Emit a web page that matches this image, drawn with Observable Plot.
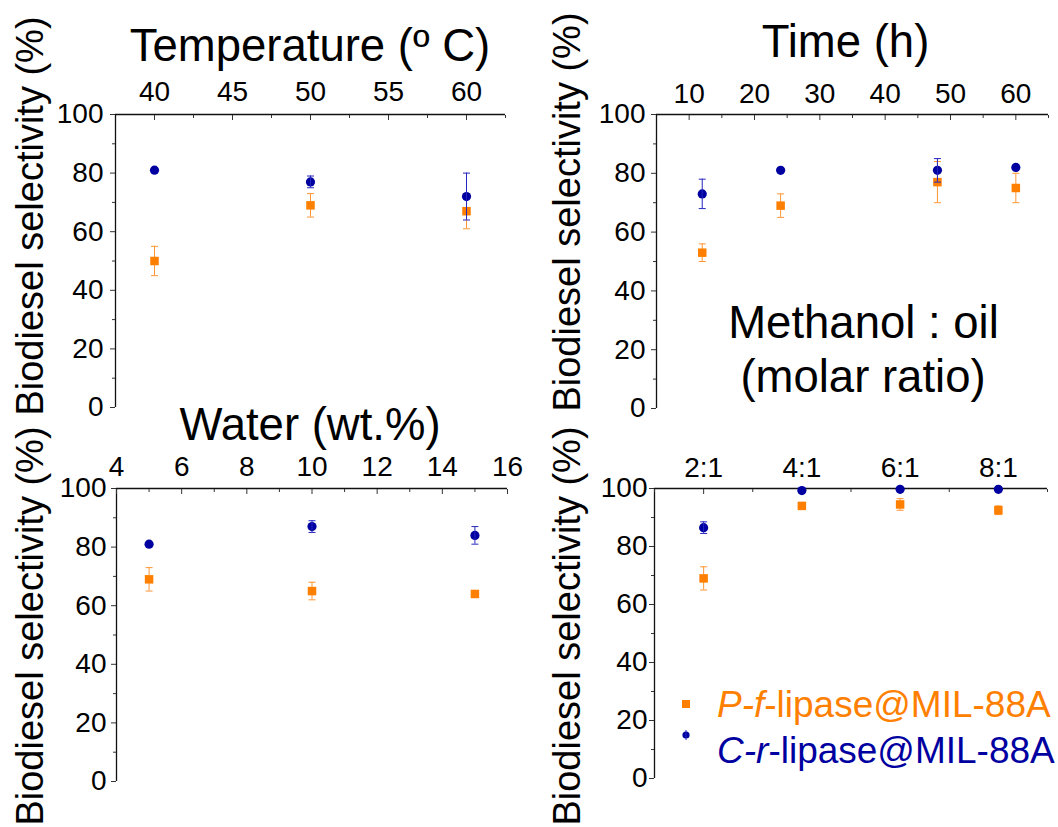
<!DOCTYPE html>
<html><head><meta charset="utf-8">
<script src="https://cdn.jsdelivr.net/npm/d3@7"></script>
<script src="https://cdn.jsdelivr.net/npm/@observablehq/plot@0.6"></script>
<style>
html,body{margin:0;padding:0;background:#fff;}
#root{position:relative;width:1058px;height:827px;overflow:hidden;font-family:"Liberation Sans",Arial,sans-serif;background:#fff;}
#root svg{position:absolute;left:0;top:0;}
</style></head><body><div id="root"></div>
<script>
const FONT = '"Liberation Sans", Arial, sans-serif';
const ORANGE = "#ff8000", BLUE = "#0000a0";
const ORANGE_BAR = "#ff9633", BLUE_BAR = "#2525c0";

// Common y axis
const yTicks = [0, 20, 40, 60, 80, 100];
const yMinor = [10, 30, 50, 70, 90];
const yLabel = "Biodiesel selectivity (%)";
const seriesNames = ["P-f-lipase@MIL-88A", "C-r-lipase@MIL-88A"];

// Panel A: Temperature
const tempX = [40, 50, 60];
const tempOrange = [50, 69, 67];
const tempOrangeErr = [5, 4, 6];
const tempBlue = [81, 77, 72];
const tempBlueErr = [0, 2, 8];
const tempTicks = [40, 45, 50, 55, 60];
const tempMinor = [42.5, 47.5, 52.5, 57.5, 62.5];
const tempDomain = [37.5, 62.5];

// Panel B: Time
const timeX = [12, 24, 48, 60];
const timeOrange = [53, 69, 77, 75];
const timeOrangeErr = [3, 4, 7, 5];
const timeBlue = [73, 81, 81, 82];
const timeBlueErr = [5, 0, 4, 0];
const timeTicks = [10, 20, 30, 40, 50, 60];
const timeMinor = [15, 25, 35, 45, 55, 65];
const timeDomain = [5, 65];

// Panel C: Water
const waterX = [5, 10, 15];
const waterOrange = [69, 65, 64];
const waterOrangeErr = [4, 3, 0];
const waterBlue = [81, 87, 84];
const waterBlueErr = [0, 2, 3];
const waterTicks = [4, 6, 8, 10, 12, 14, 16];
const waterMinor = [5, 7, 9, 11, 13, 15];
const waterDomain = [4, 16];

// Panel D: Methanol : oil molar ratio
const ratioX = [2, 4, 6, 8];
const ratioOrange = [69, 94, 94.5, 92.5];
const ratioOrangeErr = [4, 0, 2, 1.5];
const ratioBlue = [86.5, 99.3, 99.7, 99.7];
const ratioBlueErr = [2, 0, 0, 0];
const ratioTicks = [2, 4, 6, 8];
const ratioLabels = ["2:1", "4:1", "6:1", "8:1"];
const ratioMinor = [1, 3, 5, 7, 9];
const ratioDomain = [1, 9];

const W = 1058, H = 827;
const cap = {draw(ctx) { ctx.moveTo(-3.5, 0); ctx.lineTo(3.5, 0); }};

function rows(xs, ys, es) {
  return xs.map((x, i) => ({x, y: ys[i], lo: ys[i] - es[i], hi: ys[i] + es[i], e: es[i]}));
}

function panel(cfg) {
  const o = rows(cfg.x, cfg.orange, cfg.orangeErr);
  const b = rows(cfg.x, cfg.blue, cfg.blueErr);
  const oe = o.filter(d => d.e > 0), be = b.filter(d => d.e > 0);
  const [L, T, R, B] = cfg.frame;
  return Plot.plot({
    width: W, height: H,
    marginLeft: L, marginTop: T, marginRight: W - R, marginBottom: H - B,
    style: {background: "transparent", fontFamily: FONT, color: "#000", overflow: "visible"},
    x: {domain: cfg.xDomain},
    y: {domain: [0, 100]},
    marks: [
      Plot.ruleX([cfg.xDomain[0]], {stroke: "#111", strokeWidth: 1.3}),
      Plot.ruleY([100], {stroke: "#111", strokeWidth: 1.3}),
      Plot.axisY(yTicks, {anchor: "left", tickSize: 5, tickPadding: cfg.yPad, fontSize: 28, label: null, stroke: "#333"}),
      Plot.axisY(yMinor, {anchor: "left", tickSize: 3, tickFormat: () => "", label: null, stroke: "#333"}),
      Plot.axisX(cfg.ticks, {anchor: "top", tickSize: -5, tickPadding: cfg.xPad, fontSize: 28, label: null, tickFormat: cfg.fmt, stroke: "#333"}),
      Plot.axisX(cfg.minor, {anchor: "top", tickSize: -3, tickFormat: () => "", label: null, stroke: "#333"}),
      Plot.ruleX(oe, {x: "x", y1: "lo", y2: "hi", stroke: ORANGE_BAR, strokeWidth: 1}),
      Plot.dot(oe, {x: "x", y: "lo", symbol: cap, stroke: ORANGE_BAR, fill: "none", strokeWidth: 1}),
      Plot.dot(oe, {x: "x", y: "hi", symbol: cap, stroke: ORANGE_BAR, fill: "none", strokeWidth: 1}),
      Plot.dot(o, {x: "x", y: "y", symbol: "square", r: 4.8, fill: ORANGE, stroke: null}),
      Plot.dot(b, {x: "x", y: "y", symbol: "circle", r: 4.6, fill: BLUE, stroke: null}),
      Plot.ruleX(be, {x: "x", y1: "lo", y2: "hi", stroke: BLUE_BAR, strokeWidth: 1}),
      Plot.dot(be, {x: "x", y: "lo", symbol: cap, stroke: BLUE_BAR, fill: "none", strokeWidth: 1}),
      Plot.dot(be, {x: "x", y: "hi", symbol: cap, stroke: BLUE_BAR, fill: "none", strokeWidth: 1})
    ]
  });
}

const root = document.getElementById("root");
root.append(panel({x: tempX, orange: tempOrange, orangeErr: tempOrangeErr, blue: tempBlue, blueErr: tempBlueErr,
  xDomain: tempDomain, ticks: tempTicks, minor: tempMinor, fmt: d => String(d),
  frame: [115, 114, 505, 407], yPad: 7, xPad: 19}));
root.append(panel({x: timeX, orange: timeOrange, orangeErr: timeOrangeErr, blue: timeBlue, blueErr: timeBlueErr,
  xDomain: timeDomain, ticks: timeTicks, minor: timeMinor, fmt: d => String(d),
  frame: [656, 114, 1048, 408], yPad: 6, xPad: 17}));
root.append(panel({x: waterX, orange: waterOrange, orangeErr: waterOrangeErr, blue: waterBlue, blueErr: waterBlueErr,
  xDomain: waterDomain, ticks: waterTicks, minor: waterMinor, fmt: d => String(d),
  frame: [116, 488, 507, 781], yPad: 5, xPad: 18}));
root.append(panel({x: ratioX, orange: ratioOrange, orangeErr: ratioOrangeErr, blue: ratioBlue, blueErr: ratioBlueErr,
  xDomain: ratioDomain, ticks: ratioTicks, minor: ratioMinor, fmt: d => ratioLabels[ratioTicks.indexOf(d)],
  frame: [654, 488, 1047, 778], yPad: 2, xPad: 17}));

// Overlay: titles, axis labels, legend
const svg = d3.create("svg").attr("width", W).attr("height", H)
  .style("font-family", FONT).style("background", "transparent");
const titles = [
  {t: "Temperature (º C)", x: 310, y: 61},
  {t: "Time (h)", x: 845.5, y: 57},
  {t: "Water (wt.%)", x: 310, y: 440},
  {t: "Methanol : oil", x: 863.5, y: 338},
  {t: "(molar ratio)", x: 863, y: 392}
];
for (const d of titles) {
  svg.append("text").attr("x", d.x).attr("y", d.y).attr("text-anchor", "middle")
    .attr("font-size", 45.5).attr("fill", "#000").text(d.t);
}
const ylabs = [[43, 216], [580, 212], [43, 626], [580, 626]];
for (const [x, y] of ylabs) {
  svg.append("text").attr("transform", `translate(${x},${y}) rotate(-90)`)
    .attr("text-anchor", "middle").attr("font-size", 38).attr("fill", "#000").text(yLabel);
}
// Legend
svg.append("rect").attr("x", 682).attr("y", 700).attr("width", 8).attr("height", 8).attr("fill", ORANGE);
svg.append("circle").attr("cx", 686).attr("cy", 735).attr("r", 3.6).attr("fill", BLUE);
svg.append("line").attr("x1", 686).attr("x2", 686).attr("y1", 730).attr("y2", 740).attr("stroke", BLUE_BAR);
const legendRows = [[seriesNames[0], ORANGE, 717], [seriesNames[1], BLUE, 763]];
for (const [name, col, y] of legendRows) {
  const t = svg.append("text").attr("x", 717).attr("y", y).attr("font-size", 37).attr("fill", col);
  t.append("tspan").attr("font-style", "italic").text(name.slice(0, 3));
  t.append("tspan").text(name.slice(3));
}
root.append(svg.node());
</script></body></html>
